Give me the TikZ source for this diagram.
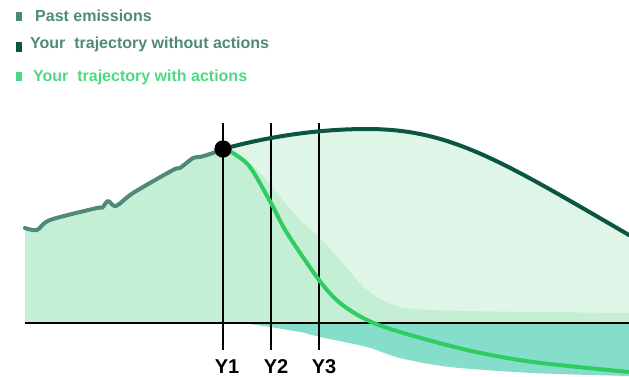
\documentclass[tikz,border=0pt]{standalone}
\usepackage{fontspec}
\setmainfont{Liberation Sans}
\usetikzlibrary{positioning}
\definecolor{pastcol}{HTML}{4F8A78}
\definecolor{darkcol}{HTML}{0B5640}
\definecolor{actcol}{HTML}{2FCC62}
\definecolor{legcol}{HTML}{4FD884}
\definecolor{lightfill}{HTML}{DFF5E7}
\definecolor{midfill}{HTML}{C4EFD5}
\definecolor{tealfill}{HTML}{84DEC9}
\begin{document}
\begin{tikzpicture}[
    x=1pt, y=-1pt,
    legbox/.style={%
      fill,
      minimum width=6pt,
      minimum height=9pt,
      inner sep=0pt,
    },
    legtext/.style={%
      font=\fontsize{16}{18}\selectfont\bfseries,
      anchor=base west,
      inner sep=0pt,
    },
    ylabel/.style={%
      font=\fontsize{20}{22}\selectfont\bfseries,
      anchor=base,
      inner sep=0pt,
    },
    dot/.style={%
      circle,
      fill=black,
      minimum size=17pt,
      inner sep=0pt,
    },
    curve/.style={%
      line width=4pt,
      line cap=round,
      line join=round,
    },
    rule/.style={%
      line width=2pt,
    },
  ]
    \useasboundingbox (0,0) rectangle (629,376);

    % legend
    \node [legbox, pastcol] (L1) at (19,16) {};
    \node [legtext, pastcol] (T1) at (35,21) {Past emissions};
    \node [legbox, darkcol, minimum height=10pt] (L2) at (19,47) {};
    \node [legtext, pastcol] (T2) at (30,48) {Your\ \ trajectory without actions};
    \node [legbox, legcol] (L3) at (19,76) {};
    \node [legtext, legcol] (T3) at (33,81) {Your\ \ trajectory with actions};

    % areas
    \fill [lightfill] (223,149) .. controls (270,136) and (320,129) .. (367,129)
      .. controls (450,129) and (500,160) .. (629,235)
      -- (629,323) -- (223,323) -- cycle;
    \fill [midfill] (25,228) plot [smooth, tension=0.5] coordinates {(25,228) (37,230) (50,220) (97,208) (102,208) (108,201) (116,206) (133,193) (173,170) (180,168) (193,158) (200,157) (213,153) (223,149)}
      -- (223,323) -- (25,323) -- cycle;
    \fill [midfill] (223,149) plot [smooth, tension=0.5] coordinates {(223,149) (245,160) (260,173) (271,186) (300,220) (320,238) (345,266) (367,290) (400,307) (467,311) (629,313)}
      -- (629,323) -- (223,323) -- cycle;
    \fill [tealfill] (240,323) plot [smooth, tension=0.5] coordinates {(240,323) (257,325) (300,332) (320,337) (367,347) (400,358) (450,367) (533,373) (629,376)}
      -- (629,323) -- cycle;

    % axis
    \coordinate (O) at (25,323);
    \coordinate (E) at (629,323);
    \draw [rule] (O) -- (E);

    % year marks
    \node [ylabel] (Y1) at (227,373) {Y1};
    \node [ylabel] (Y2) at (276,373) {Y2};
    \node [ylabel] (Y3) at (324,373) {Y3};
    \coordinate (t1) at (223,123);
    \coordinate (t2) at (271,123);
    \coordinate (t3) at (319,123);
    \coordinate (b1) at (223,350);
    \coordinate (b2) at (271,350);
    \coordinate (b3) at (319,350);
    \draw [rule] (t1) -- (b1);
    \draw [rule] (t2) -- (b2);
    \draw [rule] (t3) -- (b3);

    % trajectories
    \node [dot] (P) at (223,149) {};
    \draw [curve, pastcol] plot [smooth, tension=0.5] coordinates {(25,228) (37,230) (50,220) (97,208) (102,208) (108,201) (116,206) (133,193) (173,170) (180,168) (193,158) (200,157) (213,153) (P.center)};
    \draw [curve, darkcol] (P.center) .. controls (270,136) and (320,129) .. (367,129)
      .. controls (450,129) and (500,160) .. (629,235);
    \draw [curve, actcol] plot [smooth, tension=0.5] coordinates {(P.center) (233,153) (250,167) (271,203) (287,233) (319,280) (340,303) (367,320) (400,332) (467,350) (533,362) (629,372)};
    \node [dot] at (P) {};
\end{tikzpicture}
\end{document}
